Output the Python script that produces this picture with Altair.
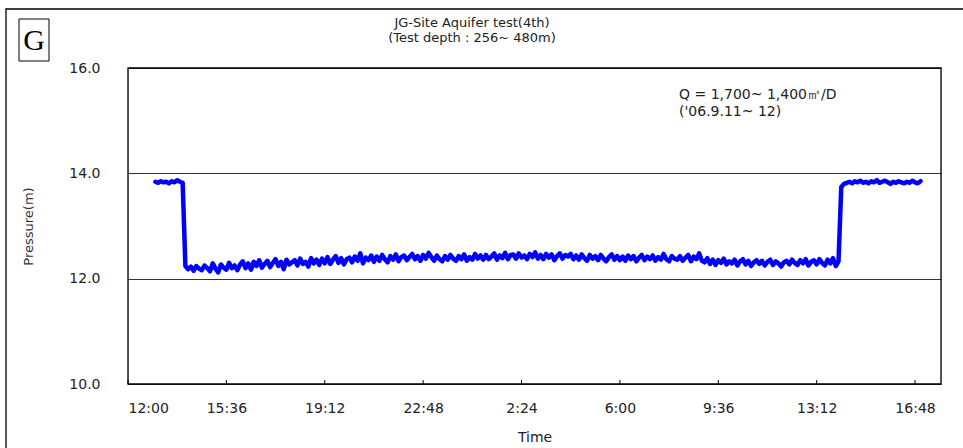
import altair as alt
import pandas as pd

# ---- data ----
start_time = "2006-09-11 13:00"   # first logger reading
step_minutes = 6                  # logger interval

pre_pumping = [13.84, 13.82, 13.85, 13.83, 13.84, 13.81, 13.85, 13.83, 13.87, 13.84, 13.82]

pumping = [
    12.24, 12.18, 12.23, 12.15, 12.24, 12.19, 12.16, 12.25, 12.20, 12.14,
    12.29, 12.19, 12.12, 12.27, 12.21, 12.17, 12.30, 12.20, 12.25, 12.16,
    12.27, 12.33, 12.20, 12.29, 12.17, 12.32, 12.24, 12.35, 12.21, 12.28,
    12.34, 12.22, 12.30, 12.37, 12.24, 12.32, 12.18, 12.36, 12.27, 12.31,
    12.35, 12.25, 12.38, 12.28, 12.32, 12.23, 12.39, 12.29, 12.36, 12.26,
    12.38, 12.29, 12.41, 12.28, 12.36, 12.43, 12.30, 12.39, 12.27, 12.37,
    12.40, 12.31, 12.42, 12.34, 12.48, 12.29, 12.40, 12.35, 12.44, 12.32,
    12.42, 12.34, 12.45, 12.37, 12.31, 12.43, 12.36, 12.46, 12.33, 12.41,
    12.44, 12.35, 12.41, 12.47, 12.37, 12.43, 12.34, 12.45, 12.38, 12.49,
    12.41, 12.34, 12.44, 12.37, 12.33, 12.43, 12.36, 12.45, 12.38, 12.34,
    12.43, 12.37, 12.46, 12.34, 12.41, 12.36, 12.47, 12.38, 12.44, 12.36,
    12.45, 12.37, 12.42, 12.48, 12.36, 12.44, 12.39, 12.49, 12.37, 12.45,
    12.46, 12.38, 12.48, 12.40, 12.44, 12.37, 12.47, 12.41, 12.50, 12.38,
    12.45, 12.37, 12.47, 12.40, 12.46, 12.35, 12.43, 12.48, 12.38, 12.45,
    12.42, 12.47, 12.37, 12.44, 12.36, 12.46, 12.39, 12.34, 12.45, 12.38,
    12.43, 12.35, 12.45, 12.38, 12.33, 12.41, 12.46, 12.36, 12.43, 12.35,
    12.42, 12.34, 12.44, 12.37, 12.43, 12.33, 12.40, 12.45, 12.35, 12.42,
    12.37, 12.44, 12.34, 12.41, 12.36, 12.47, 12.37, 12.33, 12.43, 12.38,
    12.36, 12.43, 12.34, 12.40, 12.45, 12.33, 12.42, 12.37, 12.48, 12.34,
    12.31, 12.39, 12.28, 12.36, 12.26, 12.35, 12.30, 12.38, 12.27, 12.33,
    12.29, 12.36, 12.25, 12.33, 12.37, 12.27, 12.34, 12.24, 12.31, 12.35,
    12.28, 12.34, 12.25, 12.32, 12.36, 12.26, 12.33, 12.29, 12.23, 12.31,
    12.34, 12.27, 12.36, 12.30, 12.26, 12.35, 12.29, 12.37, 12.25, 12.32,
    12.35, 12.27, 12.37, 12.30, 12.25, 12.36, 12.29, 12.39, 12.24, 12.33,
]

recovery = [
    13.74, 13.80, 13.82, 13.84, 13.81, 13.85, 13.83, 13.86, 13.82, 13.84,
    13.81, 13.85, 13.83, 13.87, 13.82, 13.84, 13.86, 13.83, 13.80, 13.84,
    13.82, 13.85, 13.83, 13.81, 13.84, 13.82, 13.86, 13.83, 13.81, 13.85,
]

x_tick_times = [
    (11, 12, 0), (11, 15, 36), (11, 19, 12), (11, 22, 48), (12, 2, 24),
    (12, 6, 0), (12, 9, 36), (12, 13, 12), (12, 16, 48),
]
y_ticks = [10, 12, 14, 16]

title_lines = ["JG-Site Aquifer test(4th)", "(Test depth : 256~ 480m)"]
note_lines = ["Q = 1,700~ 1,400㎥/D", "('06.9.11~ 12)"]
panel_letter = "G"

# ---- build table ----
pressure = pre_pumping + pumping + recovery
times = pd.date_range(start_time, periods=len(pressure), freq=f"{step_minutes}min")
df = pd.DataFrame({"time": times.strftime("%Y-%m-%dT%H:%M:%S"), "pressure": pressure})

tick_df = pd.DataFrame({
    "time": [pd.Timestamp(2006, 9, d, h, m).strftime("%Y-%m-%dT%H:%M:%S") for d, h, m in x_tick_times]
})

W, H = 813, 316
PL, PT = 128, 68
FONT = "DejaVu Sans"

x_scale = alt.Scale(domain=[alt.DateTime(year=2006, month=9, date=11, hours=12),
                            alt.DateTime(year=2006, month=9, date=12, hours=17, minutes=45)])
y_scale = alt.Scale(domain=[10, 16], nice=False, zero=False)

x_axis = alt.Axis(
    values=[alt.DateTime(year=2006, month=9, date=d, hours=h, minutes=m) for d, h, m in x_tick_times],
    format="%-H:%M", ticks=False, grid=False, domain=False,
    labelFont=FONT, labelFontSize=14, labelColor="#222", labelPadding=17,
    title="Time", titleFont=FONT, titleFontSize=14, titleFontWeight="normal",
    titleColor="#222", titleY=53, titleBaseline="middle",
)
y_axis = alt.Axis(
    values=y_ticks, format=".1f", ticks=False, domain=False,
    grid=True, gridColor="#333", gridWidth=1,
    labelFont=FONT, labelFontSize=14, labelColor="#222", labelPadding=28,
    title="Pressure(m)", titleFont=FONT, titleFontSize=13, titleFontWeight="normal",
    titleColor="#333", titleX=-100, titleY=H / 2, titleBaseline="middle",
)

line = alt.Chart(df).mark_line(color="#0000ff", strokeWidth=4.5, strokeJoin="round", strokeCap="round").encode(
    x=alt.X("time:T", scale=x_scale, axis=x_axis),
    y=alt.Y("pressure:Q", scale=y_scale, axis=y_axis),
)

inner_ticks = alt.Chart(tick_df).mark_rule(color="#000", strokeWidth=1).encode(
    x=alt.X("time:T", scale=x_scale),
    y=alt.value(H - 4), y2=alt.value(H),
)

plot_box = alt.Chart(pd.DataFrame({"a": [0]})).mark_rect(
    fill=None, stroke="#000", strokeWidth=1.3
).encode(x=alt.value(0), x2=alt.value(W), y=alt.value(0), y2=alt.value(H))

outer_frame = alt.Chart(pd.DataFrame({"a": [0]})).mark_rect(
    fill=None, stroke="#000", strokeWidth=1.3
).encode(x=alt.value(6 - PL), x2=alt.value(W + 60), y=alt.value(9 - PT), y2=alt.value(H + 100))

letter_box = alt.Chart(pd.DataFrame({"a": [0]})).mark_rect(
    fill="white", stroke="#000", strokeWidth=1
).encode(x=alt.value(19 - PL), x2=alt.value(49 - PL), y=alt.value(19 - PT), y2=alt.value(61 - PT))

letter = alt.Chart(pd.DataFrame({"t": [panel_letter]})).mark_text(
    font="Liberation Serif", fontSize=30, color="#000", align="center", baseline="middle"
).encode(text="t:N", x=alt.value(34 - PL), y=alt.value(41 - PT))

title_df = pd.DataFrame({"t": title_lines, "y": [23 - PT, 38 - PT]})
title = alt.Chart(title_df).mark_text(
    font=FONT, fontSize=13, color="#222", align="center", baseline="middle"
).encode(text="t:N", x=alt.value(472 - PL), y=alt.Y("y:Q", scale=None))

note_df = pd.DataFrame({"t": note_lines, "y": [95 - PT, 112 - PT]})
note = alt.Chart(note_df).mark_text(
    font=FONT, fontSize=14, color="#222", align="left", baseline="middle"
).encode(text="t:N", x=alt.value(679 - PL), y=alt.Y("y:Q", scale=None))

chart = alt.layer(
    outer_frame, letter_box, letter, title, note, line, inner_ticks, plot_box
).properties(
    width=W, height=H,
    autosize=alt.AutoSizeParams(type="none"),
    padding={"left": PL, "top": PT, "right": 963 - PL - W, "bottom": 448 - PT - H},
).configure_view(stroke=None).configure(background="white")

chart.save("out.html", embed_options={"renderer": "svg", "actions": False})
